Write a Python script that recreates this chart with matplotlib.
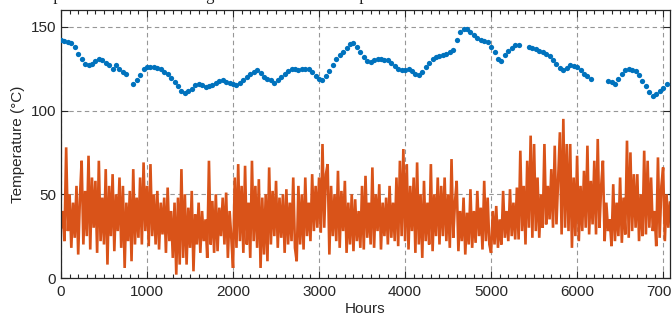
import numpy as np
import matplotlib
matplotlib.use("Agg")
import matplotlib.pyplot as plt

# ---- data ----
blue_step = 40  # hours between samples
blue_vals = [
    142, 141.5, 141, 140.5, 138, 134, 130.5, 127.5, 127, 128,
    129.5, 131, 130, 128.5, 127, 125, 127, 124.5, 123, 121.5,
    np.nan, 116, 118, 121, 125, 126, 126, 126, 125.5, 125,
    123, 121.5, 119.5, 117, 114.5, 111.5, 110.5, 111.5, 113, 115,
    116, 115, 114, 114.5, 115.5, 116.5, 117.5, 118, 117, 116.5,
    116, 115.5, 116.5, 118, 120, 122, 123, 124, 122.5, 120,
    119, 118, 116.5, 118, 120, 122, 123.5, 125, 124.5, 124,
    124.5, 125, 125, 123, 120.5, 119, 118.5, 120.5, 123.5, 127,
    130.5, 133, 135, 137.5, 140, 140.5, 138, 135, 132, 129.5,
    129, 130, 131, 130.5, 130, 130, 128.5, 126.5, 125, 124,
    124, 124.5, 123.5, 122, 121, 123, 126, 128.5, 131, 132,
    132.5, 133, 134, 135, 136, 142, 147, 148.5, 148.5, 147,
    145, 143, 142, 141.5, 141, 138, 135, 131, 129.5, 133,
    135.5, 137.5, 139, 139, np.nan, np.nan, 138, 137.5, 136.5, 135.5,
    135, 134, 132.5, 130, 127.5, 125.5, 124, 125.5, 127, 126.5,
    126, 124, 122, 120.5, 119, np.nan, np.nan, np.nan, np.nan, 117.5,
    117, 116, 119, 122, 124, 125, 124, 123.5, 121, 117.5,
    114.5, 111, 108.5, 110, 111.5, 113.5, 116,
]

orange_step = 20
orange_vals = [
    30, 40, 22, 78, 28,
    50, 18, 45, 24, 55,
    14, 48, 70, 20, 52,
    25, 73, 17, 60, 30,
    58, 15, 70, 22, 48,
    20, 65, 8, 55, 25,
    62, 16, 50, 28, 60,
    18, 55, 6, 45, 22,
    52, 10, 65, 20, 48,
    24, 60, 20, 69, 28,
    55, 19, 68, 25, 50,
    20, 52, 17, 45, 26,
    48, 15, 54, 22, 40,
    12, 45, 2, 48, 8,
    65, 12, 50, 8, 42,
    18, 52, 4, 38, 20,
    45, 15, 40, 22, 35,
    12, 70, 20, 46, 15,
    50, 16, 42, 25, 48,
    20, 51, 12, 40, 24,
    6, 60, 18, 68, 22,
    55, 15, 67, 20, 45,
    12, 70, 22, 55, 18,
    59, 6, 48, 14, 50,
    10, 66, 20, 52, 25,
    58, 18, 48, 24, 50,
    15, 53, 20, 45, 22,
    60, 18, 10, 55, 20,
    50, 17, 60, 25, 45,
    22, 62, 28, 55, 30,
    60, 27, 80, 30, 62,
    68, 14, 55, 25, 50,
    22, 64, 18, 52, 28,
    58, 15, 45, 20, 50,
    16, 47, 22, 40, 18,
    55, 17, 61, 24, 45,
    20, 66, 18, 50, 28,
    56, 17, 45, 25, 48,
    20, 55, 24, 45, 22,
    60, 19, 70, 25, 77,
    22, 68, 17, 55, 28,
    60, 15, 69, 20, 50,
    12, 58, 22, 45, 20,
    68, 16, 50, 25, 60,
    20, 55, 25, 60, 22,
    50, 18, 71, 24, 45,
    58, 16, 40, 22, 48,
    14, 39, 20, 53, 18,
    40, 21, 52, 25, 42,
    17, 58, 22, 48, 20,
    15, 40, 20, 43, 18,
    35, 20, 52, 24, 40,
    22, 53, 25, 45, 23,
    54, 23, 76, 28, 55,
    20, 70, 30, 85, 24,
    80, 28, 60, 24, 50,
    30, 80, 32, 55, 35,
    65, 30, 79, 32, 60,
    87, 26, 95, 30, 80,
    28, 80, 18, 60, 25,
    73, 22, 55, 28, 64,
    30, 79, 26, 58, 32,
    70, 26, 83, 30, 55,
    70, 22, 45, 28, 35,
    19, 56, 22, 45, 25,
    60, 21, 48, 26, 82,
    24, 75, 28, 62, 30,
    62, 22, 50, 25, 76,
    26, 70, 30, 60, 28,
    40, 19, 72, 24, 55,
    66, 22, 50, 30, 45,
]

x_ticks = [0, 1000, 2000, 3000, 4000, 5000, 6000, 7000]
y_ticks = [0, 50, 100, 150]
title_text = "Temperature and the loading with the ambient temperature"
x_label = "Hours"
y_label = "Temperature (\u00b0C)"

blue_hours = np.arange(len(blue_vals)) * blue_step
orange_hours = np.arange(len(orange_vals)) * orange_step

# ---- figure ----
plt.rcParams['font.family'] = ['Liberation Sans', 'DejaVu Sans']
fig = plt.figure(figsize=(6.72, 3.25), dpi=100)
ax = fig.add_axes([61/672, 1 - 278/325, (670-61)/672, (278-10)/325])

ax.plot(orange_hours, orange_vals, color='#D95319', lw=1.9,
        solid_joinstyle='miter', zorder=2)
ax.plot(blue_hours, blue_vals, linestyle='none', marker='o', ms=3.8,
        mfc='#0072BD', mec='none', zorder=3)

ax.set_xlim(0, 7080)
ax.set_ylim(0, 160)
ax.set_xticks(x_ticks)
ax.set_xticklabels([str(t) for t in x_ticks])
ax.set_yticks(y_ticks)
ax.set_xticks(np.arange(0, 7080, 100), minor=True)

ax.grid(True, which='major', color='#8c8c8c', linestyle=(0, (4, 3)), lw=0.8, alpha=0.9)
ax.set_axisbelow(True)

ax.tick_params(which='both', direction='in', top=True, right=True,
               labelsize=11, colors='#262626', width=0.8)
ax.tick_params(which='major', length=5)
ax.tick_params(which='minor', length=3)
ax.tick_params(axis='x', pad=5)
for s in ax.spines.values():
    s.set_color('#262626')
    s.set_linewidth(0.9)

ax.set_xlabel(x_label, fontsize=11, color='#262626', labelpad=2)
ax.set_ylabel(y_label, fontsize=11, color='#262626', labelpad=4)

fig.text(24/672, 1.0, title_text, ha='left', va='baseline',
         fontsize=12, family='Liberation Serif', color='#202020')

fig.savefig('out.png', dpi=100)
